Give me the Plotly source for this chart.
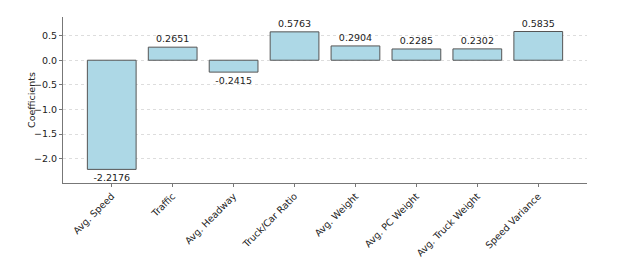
import plotly.graph_objects as go

categories = ["Avg. Speed", "Traffic", "Avg. Headway", "Truck/Car Ratio",
              "Avg. Weight", "Avg. PC Weight", "Avg. Truck Weight", "Speed Variance"]
coefficients = [-2.2176, 0.2651, -0.2415, 0.5763, 0.2904, 0.2285, 0.2302, 0.5835]
ytick_vals = [0.5, 0.0, -0.5, -1.0, -1.5, -2.0]
ytick_text = ["0.5", "0.0", "\u22120.5", "\u22121.0", "\u22121.5", "\u22122.0"]
y_title = "Coefficients"

x_idx = list(range(len(categories)))
FS = 9.5

fig = go.Figure()
fig.add_trace(go.Bar(
    x=x_idx, y=coefficients, width=0.8,
    marker=dict(color="#ADD8E6", line=dict(color="#555555", width=1)),
    text=[f"{v:.4f}" for v in coefficients],
    textposition="outside", cliponaxis=False,
    textfont=dict(family="DejaVu Sans", size=FS, color="#222222"),
))

# page body has an 8px default margin; offset the figure so the plot area lands where the reference has it
fig.update_layout(
    width=615, height=252,
    margin=dict(l=55, r=36, t=9, b=77),
    paper_bgcolor="white", plot_bgcolor="white",
    showlegend=False,
    font=dict(family="DejaVu Sans", size=FS, color="#222222"),
    bargap=0.2,
)
fig.add_annotation(
    text=y_title, textangle=-90, xref="paper", yref="paper", x=0, y=0.5,
    xanchor="center", yanchor="middle", xshift=-32, showarrow=False,
    font=dict(family="DejaVu Sans", size=FS, color="#222222"),
)
fig.update_xaxes(
    range=[-0.8, 7.8], tickmode="array", tickvals=x_idx, ticktext=categories,
    tickangle=-45, showline=True, linecolor="#777777", linewidth=1,
    ticks="outside", ticklen=3, tickcolor="#777777", showgrid=False, zeroline=False,
    tickfont=dict(size=FS), automargin=False,
)
fig.update_yaxes(
    range=[-2.494, 0.878], tickmode="array", tickvals=ytick_vals, ticktext=ytick_text,
    showline=True, linecolor="#777777", linewidth=1,
    ticks="outside", ticklen=3, tickcolor="#777777",
    showgrid=True, gridcolor="#dddddd", griddash="dot", gridwidth=1, zeroline=False,
    tickfont=dict(size=FS), automargin=False,
)

fig.write_html("out.html")
